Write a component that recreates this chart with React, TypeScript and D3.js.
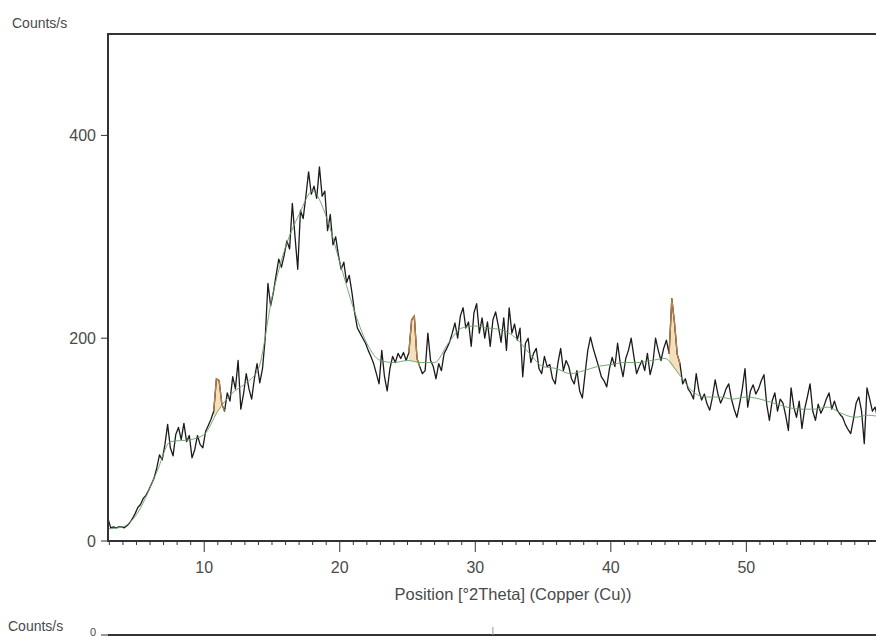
import * as d3 from 'd3'

// scan settings of the measurement (°2Theta)
const scanStart = 2.9
const scanStep = 0.2

const counts = [
  22, 13, 14, 13, 14,
  14, 13, 15, 18, 22,
  27, 33, 36, 42, 45,
  50, 56, 62, 72, 85,
  80, 95, 115, 92, 84,
  105, 112, 100, 116, 98,
  104, 82, 90, 104, 95,
  92, 108, 114, 120, 128,
  160, 158, 135, 128, 146,
  138, 162, 150, 178, 130,
  145, 165, 150, 140, 160,
  175, 156, 170, 200, 254,
  232, 245, 262, 278, 270,
  282, 296, 288, 333, 300,
  268, 326, 318, 340, 364,
  342, 350, 338, 369, 340,
  345, 306, 322, 292, 300,
  282, 268, 275, 255, 262,
  245, 225, 210, 205, 200,
  195, 188, 182, 175, 165,
  155, 188, 162, 148, 170,
  182, 176, 185, 180, 186,
  178, 186, 218, 222, 180,
  172, 165, 168, 205, 178,
  172, 160, 175, 168, 185,
  190, 196, 205, 215, 200,
  222, 230, 210, 216, 192,
  225, 234, 205, 220, 200,
  216, 192, 218, 226, 212,
  196, 220, 188, 230, 205,
  214, 198, 210, 162, 195,
  200, 176, 185, 190, 170,
  165, 182, 172, 174, 160,
  155, 176, 190, 168, 178,
  172, 160, 155, 168, 148,
  141, 165, 188, 201, 190,
  181, 172, 162, 158, 152,
  170, 181, 172, 195, 175,
  162, 180, 188, 200, 182,
  165, 172, 178, 168, 185,
  164, 175, 200, 188, 178,
  190, 198, 185, 239, 215,
  184, 175, 155, 160, 150,
  146, 140, 165, 148, 139,
  145, 135, 129, 142, 159,
  145, 136, 142, 150, 155,
  140, 130, 122, 135, 150,
  170, 132, 148, 154, 145,
  150, 158, 164, 135, 119,
  138, 146, 128, 140, 136,
  124, 109, 151, 132, 122,
  138, 111, 130, 142, 155,
  128, 119, 135, 126, 132,
  140, 146, 130, 138, 129,
  125, 122, 115, 110, 106,
  120, 136, 142, 128, 96,
  151, 140, 128, 132, 120,
  118,
]

// fitted background (green)
const bgAngles = [2.9, 4, 5, 6.5, 7.5, 9, 10, 11, 12, 13, 14, 15, 16, 17, 18, 19, 20, 21, 22, 23, 24, 25, 26, 27, 28, 29, 30, 31, 32, 33, 34, 35, 36, 37, 38, 39, 40, 41, 42, 43, 44, 45, 46, 47, 48, 49, 50, 51, 52, 53, 54, 55, 56, 57, 58, 59, 60]
const bgCounts = [12, 14, 26, 68, 98, 100, 105, 128, 145, 155, 170, 240, 290, 322, 345, 320, 275, 230, 195, 178, 176, 178, 176, 176, 195, 210, 212, 210, 208, 200, 185, 172, 170, 165, 168, 172, 174, 176, 176, 178, 180, 165, 148, 142, 142, 140, 142, 140, 136, 132, 130, 130, 132, 126, 122, 124, 122]

// identified peaks (orange)
const peakRanges = [[10.7, 11.5], [25.1, 25.9], [44.3, 45.1]]

const xTicks = [10, 20, 30, 40, 50]
const yTicks = [0, 200, 400]

const font = "'Liberation Sans', Arial, sans-serif"
const textColor = '#4a4a4a'

export default function App() {
  const width = 876
  const height = 637
  const x = d3.scaleLinear().domain([2.9, 62]).range([108, 909])
  const y = d3.scaleLinear().domain([0, 500]).range([541, 34])
  const bg = d3.scaleLinear().domain(bgAngles).range(bgCounts)

  const pts = counts.map((c, i) => ({ t: scanStart + i * scanStep, c }))

  const dataLine = d3.line<{ t: number; c: number }>()
    .x(d => x(d.t))
    .y(d => y(d.c))

  const bgLine = d3.line<number>()
    .x((_, i) => x(bgAngles[i]))
    .y(d => y(d))
    .curve(d3.curveMonotoneX)

  const peakArea = d3.area<{ t: number; c: number }>()
    .x(d => x(d.t))
    .y0(d => y(bg(d.t)))
    .y1(d => y(Math.max(d.c, bg(d.t))))

  const minorTicks = d3.range(3, 63).filter(v => v % 10 !== 0)

  return (
    <div style={{ position: 'fixed', left: 0, top: 0, width, height, overflow: 'hidden', background: '#fff' }}>
      <svg width={width} height={height} style={{ display: 'block' }} fontFamily={font}>
        <defs>
          <clipPath id="plot">
            <rect x={108} y={34} width={width - 108} height={507} />
          </clipPath>
        </defs>

        <text x={12} y={28} fontSize={14} fill={textColor}>Counts/s</text>

        <g clipPath="url(#plot)">
          {peakRanges.map(([a, b], i) => {
            const seg = pts.filter(p => p.t >= a && p.t <= b)
            return <path key={i} d={peakArea(seg) ?? ''} fill="#f4e0bd" stroke="none" />
          })}
          <path d={dataLine(pts) ?? ''} fill="none" stroke="#1b1b1b" strokeWidth={1.3} strokeLinejoin="round" />
          {peakRanges.map(([a, b], i) => {
            const seg = pts.filter(p => p.t >= a - 0.01 && p.t <= b + 0.01)
            return <path key={i} d={dataLine(seg) ?? ''} fill="none" stroke="#b98048" strokeWidth={1.3} />
          })}
          <path d={bgLine(bgCounts) ?? ''} fill="none" stroke="#6a9f6a" strokeWidth={1} opacity={0.9} />
        </g>

        {/* frame */}
        <path d={`M${width + 2},34H108V541H${width + 2}`} fill="none" stroke="#333" strokeWidth={2} />

        {/* y axis */}
        {yTicks.map(v => (
          <g key={v}>
            <line x1={101} x2={108} y1={y(v)} y2={y(v)} stroke="#333" strokeWidth={1} />
            <text x={96} y={y(v) + 6} fontSize={16} fill={textColor} textAnchor="end">{v}</text>
          </g>
        ))}

        {/* x axis */}
        {minorTicks.map(v => (
          <line key={v} x1={x(v)} x2={x(v)} y1={541} y2={545} stroke="#333" strokeWidth={1} />
        ))}
        {xTicks.map(v => (
          <g key={v}>
            <line x1={x(v)} x2={x(v)} y1={541} y2={552} stroke="#333" strokeWidth={1} />
            <text x={x(v)} y={573} fontSize={16} fill={textColor} textAnchor="middle">{v}</text>
          </g>
        ))}
        <text x={513} y={600} fontSize={16.5} fill={textColor} textAnchor="middle">Position [°2Theta] (Copper (Cu))</text>

        {/* next panel */}
        <text x={8} y={631} fontSize={14} fill={textColor}>Counts/s</text>
        <text x={96} y={636} fontSize={11} fill={textColor} textAnchor="end">0</text>
        <line x1={101} x2={108} y1={635} y2={635} stroke="#333" strokeWidth={1} />
        <line x1={108} x2={width + 2} y1={635} y2={635} stroke="#333" strokeWidth={2} />
        <line x1={x(31.3)} x2={x(31.3)} y1={627} y2={635} stroke="#999" strokeWidth={1} />
      </svg>
    </div>
  )
}
